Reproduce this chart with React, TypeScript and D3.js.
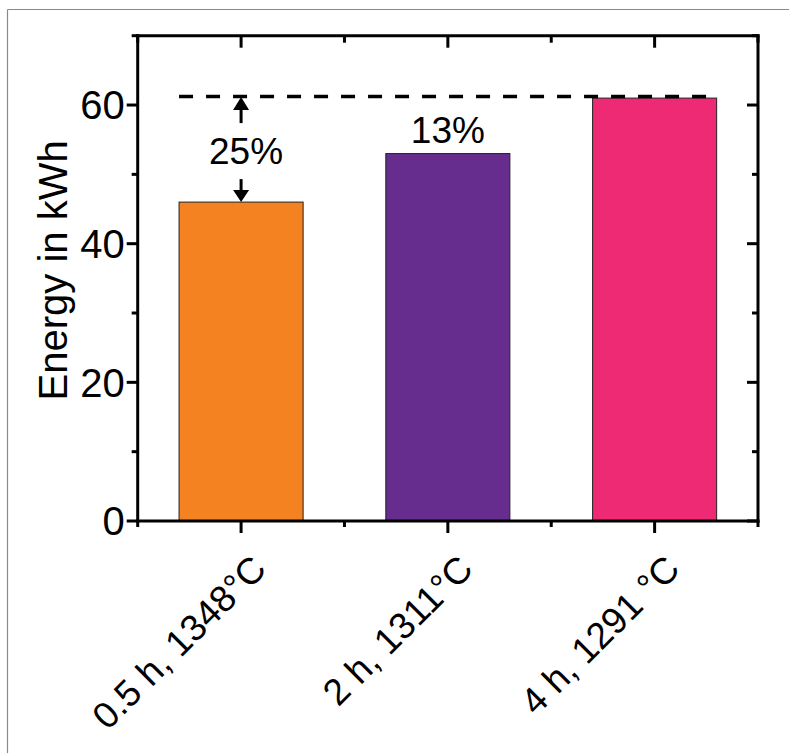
import React from "react";
import * as d3 from "d3";

const categories = ["0.5 h, 1348°C", "2 h, 1311°C", "4 h, 1291 °C"];
const energy = [46, 53, 61];
const colors = ["#F58220", "#662D8F", "#EE2A74"];
const yTicks = [0, 20, 40, 60];
const yMinorTicks = [10, 30, 50, 70];
const refValue = 61;
const percentLabels = ["25%", "13%", ""];

const W = 789;
const H = 753;
const left = 137.7;
const right = 758;
const top = 35.7;
const bottom = 521;
const FONT = "'Liberation Sans', Arial, sans-serif";

export default function App() {
  const x = d3.scaleBand<string>().domain(categories).range([left, right]).paddingInner(0.4).paddingOuter(0.2);
  const y = d3.scaleLinear().domain([0, 70]).range([bottom, top]);
  const step = x.step();
  const centers = categories.map((c) => (x(c) as number) + x.bandwidth() / 2);
  const xMinor = [left, ...centers.slice(0, -1).map((c) => c + step / 2), right];

  const refY = y(refValue);
  const c0 = centers[0];
  const bar0Top = y(energy[0]);

  return (
    <svg width={W} height={H} style={{ position: "absolute", left: 0, top: 0 }} fontFamily={FONT}>
      <rect x={0} y={0} width={W} height={H} fill="#fff" />
      {/* frame */}
      <line x1={7.5} y1={9.5} x2={W} y2={9.5} stroke="#8a8a8a" strokeWidth={1.2} />
      <line x1={7.5} y1={9.5} x2={7.5} y2={H} stroke="#8a8a8a" strokeWidth={1.2} />

      {/* bars */}
      {categories.map((c, i) => (
        <rect
          key={c}
          x={x(c)}
          y={y(energy[i])}
          width={x.bandwidth()}
          height={y(0) - y(energy[i])}
          fill={colors[i]}
          stroke="#222"
          strokeWidth={1}
        />
      ))}

      {/* reference dashed line */}
      <line
        x1={x(categories[0])}
        x2={(x(categories[2]) as number) + x.bandwidth()}
        y1={refY - 1.5}
        y2={refY - 1.5}
        stroke="#000"
        strokeWidth={3.5}
        strokeDasharray="14 13"
      />

      {/* arrows */}
      <line x1={c0} x2={c0} y1={refY + 11} y2={refY + 25} stroke="#000" strokeWidth={3} />
      <polygon points={`${c0},${refY - 1} ${c0 - 8},${refY + 12} ${c0 + 8},${refY + 12}`} fill="#000" />
      <line x1={c0} x2={c0} y1={bar0Top - 23} y2={bar0Top - 11} stroke="#000" strokeWidth={3} />
      <polygon points={`${c0},${bar0Top} ${c0 - 8},${bar0Top - 12} ${c0 + 8},${bar0Top - 12}`} fill="#000" />

      {/* percent labels */}
      <text x={c0 + 5} y={164} fontSize={37} textAnchor="middle" fill="#000">{percentLabels[0]}</text>
      <text x={centers[1]} y={y(energy[1]) - 11} fontSize={37} textAnchor="middle" fill="#000">{percentLabels[1]}</text>

      {/* axes frame */}
      <g stroke="#000" strokeWidth={3} strokeLinecap="square">
        <line x1={left} x2={right} y1={bottom} y2={bottom} />
        <line x1={left} x2={right} y1={top} y2={top} />
        <line x1={left} x2={left} y1={top} y2={bottom} />
        <line x1={right} x2={right} y1={top} y2={bottom} />
      </g>
      {/* ticks */}
      <g stroke="#000" strokeWidth={3}>
        {yTicks.map((t) => (
          <g key={"y" + t}>
            <line x1={left - 11} x2={left} y1={y(t)} y2={y(t)} />
            <line x1={right - 11} x2={right} y1={y(t)} y2={y(t)} />
          </g>
        ))}
        {yMinorTicks.map((t) => (
          <g key={"ym" + t}>
            <line x1={left - 6} x2={left} y1={y(t)} y2={y(t)} />
            <line x1={right - 6} x2={right} y1={y(t)} y2={y(t)} />
          </g>
        ))}
        {centers.map((c, i) => (
          <g key={"x" + i}>
            <line x1={c} x2={c} y1={bottom} y2={bottom + 12} />
            <line x1={c} x2={c} y1={top} y2={top + 12} />
          </g>
        ))}
        {xMinor.map((c, i) => (
          <g key={"xm" + i}>
            <line x1={c} x2={c} y1={bottom} y2={bottom + 6} />
            <line x1={c} x2={c} y1={top} y2={top + 7} />
          </g>
        ))}
      </g>

      {/* y tick labels */}
      {yTicks.map((t) => (
        <text key={"yl" + t} x={left - 13} y={y(t)} dy="0.36em" fontSize={40} textAnchor="end" fill="#000">
          {t}
        </text>
      ))}

      {/* x tick labels */}
      {categories.map((c, i) => (
        <text
          key={"xl" + c}
          transform={`translate(${centers[i] + 27},${571}) rotate(-45)`}
          fontSize={37}
          textAnchor="end"
          fill="#000"
        >
          {c}
        </text>
      ))}

      {/* y axis title */}
      <text transform={`translate(67,${(top + bottom) / 2 - 8}) rotate(-90)`} fontSize={40} textAnchor="middle" fill="#000">
        Energy in kWh
      </text>
    </svg>
  );
}
